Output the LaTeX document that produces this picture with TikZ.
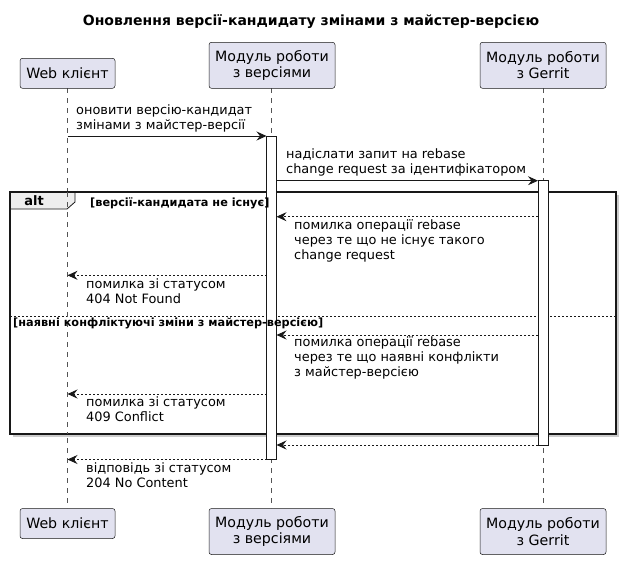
\documentclass[tikz,border=0pt]{standalone}
\usepackage{fontspec}
\setmainfont{DejaVu Sans}
\usetikzlibrary{arrows.meta}
\definecolor{partfill}{HTML}{E2E2F0}
\definecolor{ink}{HTML}{181818}
\definecolor{life}{HTML}{555555}
\definecolor{tabfill}{HTML}{EEEEEE}
\tikzset{
  part/.style={draw=ink, line width=0.5pt, fill=partfill, rounded corners=2.5pt, align=center, inner sep=0pt, font=\fontsize{14.2}{16.5}\selectfont},
  lifeline/.style={draw=life, line width=0.5pt, dash pattern=on 5pt off 5pt},
  actbar/.style={draw=ink, line width=0.8pt, fill=white},
  msg/.style={draw=ink, line width=0.8pt, -{Stealth[length=10pt,width=9pt,inset=3.5pt]}},
  ret/.style={msg, dash pattern=on 2pt off 2pt},
  lbl/.style={anchor=north west, align=left, inner sep=0pt, font=\fontsize{12.9}{15}\selectfont},
  cond/.style={anchor=west, inner sep=0pt, font=\bfseries\fontsize{11.3}{13}\selectfont},
}
\begin{document}
\begin{tikzpicture}[x=1pt,y=-1pt]
\useasboundingbox (0,0) rectangle (621,560);
% title
\node[font=\bfseries\fontsize{14}{16}\selectfont] (title) at (311,22) {Оновлення версії-кандидату змінами з майстер-версією};
% lifelines
\draw[lifeline] (67.5,88) -- (67.5,508);
\draw[lifeline] (271.5,88) -- (271.5,508);
\draw[lifeline] (543,88) -- (543,508);
% participants top
\node[part, minimum width=95pt, minimum height=30pt] (wt) at (67.5,73.3) {Web клієнт};
\node[part, minimum width=126pt, minimum height=46pt] (vt) at (272,65.3) {Модуль роботи\\з версіями};
\node[part, minimum width=126pt, minimum height=46pt] (gt) at (543,65.3) {Модуль роботи\\з Gerrit};
% participants bottom
\node[part, minimum width=95pt, minimum height=30pt] (wb) at (67.5,523.5) {Web клієнт};
\node[part, minimum width=126pt, minimum height=46pt] (vb) at (272,531.5) {Модуль роботи\\з версіями};
\node[part, minimum width=126pt, minimum height=46pt] (gb) at (543,531.5) {Модуль роботи\\з Gerrit};
% alt frame
\fill[black!20] (13,195) rectangle (619,437);
\draw[ink, line width=1.5pt, fill=white] (10,192) rectangle (616,434);
\draw[ink, line width=0.8pt, fill=tabfill] (10,192) -- (75,192) -- (75,202) -- (67,209) -- (10,209) -- cycle;
\draw[ink, line width=1.5pt] (10,192) rectangle (616,434);
\node[font=\bfseries\fontsize{13}{15}\selectfont, inner sep=0pt] (alt) at (34,201) {alt};
\draw[ink, line width=0.8pt, dash pattern=on 2pt off 2pt] (10,316.7) -- (616,316.7);
% lifeline segments and activation bars over the frame
\draw[lifeline] (67.5,192) -- (67.5,434);
\draw[actbar] (266.5,136) rectangle (276.5,459.5);
\draw[actbar] (538,180.7) rectangle (548,445);
\node[cond] (c1) at (90,203) {[версії-кандидата не існує]};
\node[cond] (c2) at (13,323.5) {[наявні конфліктуючі зміни з майстер-версією]};
% coordinates
\coordinate (w1) at (67.5,136);   \coordinate (v1) at (266.5,136);
\coordinate (v2) at (276.5,180.7); \coordinate (g2) at (538,180.7);
\coordinate (g3) at (538,216.7);  \coordinate (v3) at (276.5,216.7);
\coordinate (v4) at (266.5,275.3); \coordinate (w4) at (67.5,275.3);
\coordinate (g5) at (538,335);    \coordinate (v5) at (276.5,335);
\coordinate (v6) at (266.5,394);  \coordinate (w6) at (67.5,394);
\coordinate (g7) at (538,445);    \coordinate (v7) at (276.5,445);
\coordinate (v8) at (266.5,459.5); \coordinate (w8) at (67.5,459.5);
% messages
\draw[msg] (w1) -- (v1);
\node[lbl] (t1) at (76,104) {оновити версію-кандидат\\змінами з майстер-версії};
\draw[msg] (v2) -- (g2);
\node[lbl] (t2) at (286,148.5) {надіслати запит на rebase\\change request за ідентифікатором};
\draw[ret] (g3) -- (v3);
\node[lbl] (t3) at (294,219.5) {помилка операції rebase\\через те що не існує такого\\change request};
\draw[ret] (v4) -- (w4);
\node[lbl] (t4) at (86,278.5) {помилка зі статусом\\404 Not Found};
\draw[ret] (g5) -- (v5);
\node[lbl] (t5) at (294,336) {помилка операції rebase\\через те що наявні конфлікти\\з майстер-версією};
\draw[ret] (v6) -- (w6);
\node[lbl] (t6) at (86,396.5) {помилка зі статусом\\409 Conflict};
\draw[ret] (g7) -- (v7);
\draw[ret] (v8) -- (w8);
\node[lbl] (t8) at (86,462) {відповідь зі статусом\\204 No Content};
\end{tikzpicture}
\end{document}
